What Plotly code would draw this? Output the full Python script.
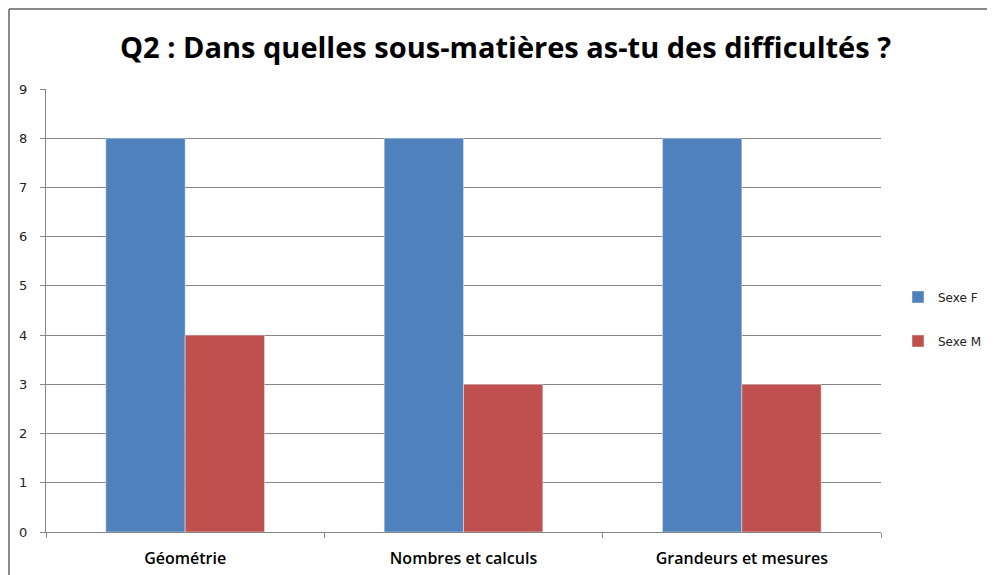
import plotly.graph_objects as go

categories = ["Géométrie", "Nombres et calculs", "Grandeurs et mesures"]
sexe_f = [8, 8, 8]
sexe_m = [4, 3, 3]
y_ticks = [0, 1, 2, 3, 4, 5, 6, 7, 8, 9]

fig = go.Figure()
fig.add_trace(go.Bar(name="Sexe F", x=categories, y=sexe_f, marker_color="#4F81BD", legendgroup="f"))
fig.add_trace(go.Bar(name="Sexe M", x=categories, y=sexe_m, marker_color="#C0504D", legendgroup="m"))

# plot area in screen px: x 46..881, y 89..532 (page body has 8px margin)
px = lambda sx: (sx - 46) / 835
py = lambda sy: (532 - sy) / 443

fig.update_layout(
    width=995, height=575,
    paper_bgcolor="white", plot_bgcolor="white",
    barmode="group", bargap=0.43, bargroupgap=0,
    margin=dict(l=38, r=122, t=81, b=51),
    title=dict(text="<b>Q2 : Dans quelles sous-matières as-tu des difficultés ?</b>",
               x=0.5, xanchor="center", y=0.93, yanchor="middle",
               font=dict(family="Open Sans, sans-serif", size=29, color="black")),
    legend=dict(x=px(898), y=py(319), xanchor="left", yanchor="middle",
                traceorder="grouped", tracegroupgap=25,
                font=dict(family="DejaVu Sans, Verdana, sans-serif", size=12, color="#222"),
                itemwidth=30),
    font=dict(family="DejaVu Sans, sans-serif", size=12, color="black"),
    xaxis=dict(showline=True, linecolor="#868686", linewidth=1,
               ticks="outside", tickson="boundaries", ticklen=5, tickcolor="#868686",
               ticklabelstandoff=12,
               tickfont=dict(family="Open Sans, sans-serif", size=16, color="black", weight=600),
               showgrid=False),
    yaxis=dict(range=[0, 9], tickvals=y_ticks, showline=True, linecolor="#868686", linewidth=1,
               ticks="outside", ticklen=5, tickcolor="#868686", ticklabelstandoff=10,
               showgrid=True, gridcolor="#868686", gridwidth=1, zeroline=False,
               tickfont=dict(family="DejaVu Sans, Verdana, sans-serif", size=13, color="#222")),
    shapes=[
        dict(type="line", xref="paper", yref="paper", x0=px(9), x1=px(9), y0=py(590), y1=py(9),
             line=dict(color="#8a8a8a", width=2)),
        dict(type="line", xref="paper", yref="paper", x0=px(9), x1=px(1010), y0=py(9), y1=py(9),
             line=dict(color="#8a8a8a", width=2)),
    ],
)

fig.write_html("out.html")
